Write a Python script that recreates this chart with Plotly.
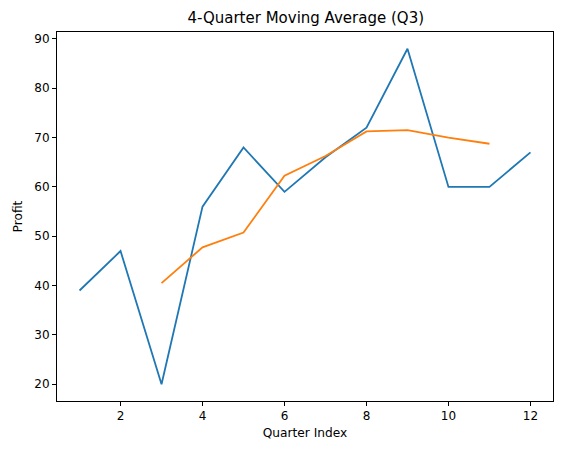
import plotly.graph_objects as go

quarters = list(range(1, 13))
profit = [39, 47, 20, 56, 68, 59, 66, 72, 88, 60, 60, 67]
ma_x = list(range(3, 12))
ma_vals = [40.5, 47.75, 50.75, 62.25, 66.25, 71.25, 71.5, 70.0, 68.75]

fig = go.Figure()
fig.add_trace(go.Scatter(x=quarters, y=profit, mode="lines",
                         line=dict(color="#1f77b4", width=1.8), showlegend=False))
fig.add_trace(go.Scatter(x=ma_x, y=ma_vals, mode="lines",
                         line=dict(color="#ff7f0e", width=1.8), showlegend=False))

axis_common = dict(showline=True, linecolor="black", linewidth=1, mirror=True,
                   ticks="outside", ticklen=4, tickcolor="black", showgrid=False,
                   zeroline=False, tickfont=dict(size=12, color="black"))
fig.update_layout(
    width=562, height=455,
    margin=dict(l=57, r=9, t=32, b=54),
    paper_bgcolor="white", plot_bgcolor="white",
    font=dict(family="DejaVu Sans", color="black"),
    title=dict(text="4-Quarter Moving Average (Q3)", x=0.544, xanchor="center",
               y=1 - 18 / 455, yanchor="middle", font=dict(size=15, color="black")),
    xaxis=dict(range=[0.45, 12.55], tickvals=[2, 4, 6, 8, 10, 12],
               title=dict(text="Quarter Index", font=dict(size=12.2), standoff=6), **axis_common),
    yaxis=dict(range=[16.6, 91.4], tickvals=[20, 30, 40, 50, 60, 70, 80, 90],
               title=dict(text="Profit", font=dict(size=12.2), standoff=9), **axis_common),
)
fig.write_html("out.html")
